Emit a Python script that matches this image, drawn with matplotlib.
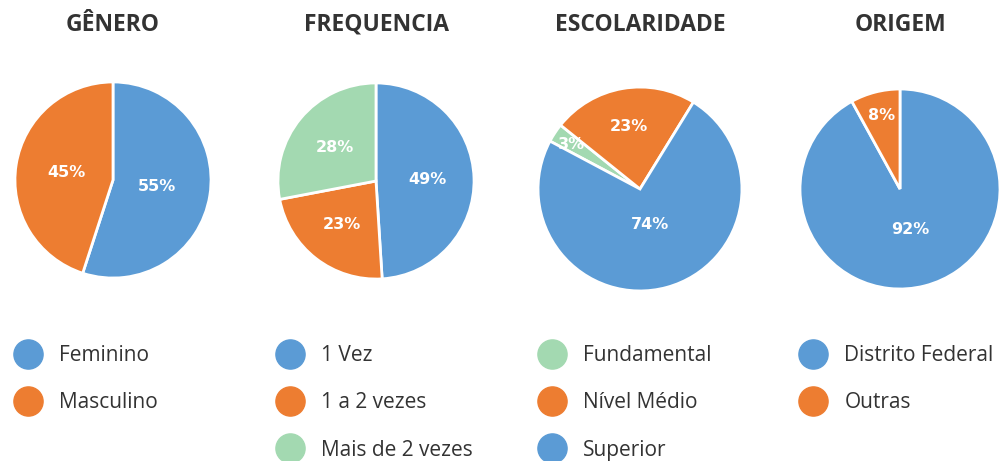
import matplotlib
matplotlib.use("Agg")
import matplotlib.pyplot as plt
from matplotlib.lines import Line2D

plt.rcParams['font.family'] = ['Open Sans', 'DejaVu Sans']

# =============================
# Data
# =============================
titles = ["GÊNERO", "FREQUENCIA", "ESCOLARIDADE", "ORIGEM"]

genero_labels = ["Feminino", "Masculino"]
genero_values = [55, 45]

freq_labels = ["1 Vez", "1 a 2 vezes", "Mais de 2 vezes"]
freq_values = [49, 23, 28]

escol_labels = ["Fundamental", "Nível Médio", "Superior"]
escol_values = [3, 23, 74]

origem_labels = ["Distrito Federal", "Outras"]
origem_values = [92, 8]

BLUE = "#5b9bd5"
ORANGE = "#ed7d31"
GREEN = "#a3d9b1"

W, H = 1005, 461
LEG_FS = 15

# per pie: labels, values, colours, startangle, centre (px), radius (px), label distance per wedge, legend x
pies = [
    (genero_labels, genero_values, [BLUE, ORANGE], 90, (113, 180), 100, [0.45, 0.48], 28),
    (freq_labels, freq_values, [BLUE, ORANGE, GREEN], 90, (376, 181), 100, [0.52, 0.56, 0.54], 290),
    (escol_labels, escol_values, [GREEN, ORANGE, BLUE], 152, (640, 189), 104, [0.8, 0.62, 0.36], 552),
    (origem_labels, origem_values, [BLUE, ORANGE], 90, (900, 189), 102, [0.42, 0.76], 813),
]

fig = plt.figure(figsize=(W / 100, H / 100), dpi=100)
fs_px = LEG_FS * 100 / 72

for (labels, values, colors, start, (cx, cy), r, dists, lx), title in zip(pies, titles):
    ax = fig.add_axes([(cx - r) / W, (H - cy - r) / H, 2 * r / W, 2 * r / H])
    wedges, texts, autotexts = ax.pie(
        values, colors=colors, startangle=start, counterclock=False,
        autopct=lambda p: f"{p:.0f}%", pctdistance=0.5,
        wedgeprops=dict(edgecolor="white", linewidth=2),
        textprops=dict(color="white", fontsize=11.5, fontweight="bold",
                       family=["DejaVu Sans"]),
    )
    for t, d in zip(autotexts, dists):
        x, y = t.get_position()
        t.set_position((x / 0.5 * d, y / 0.5 * d))
    ax.set_xlim(-1.02, 1.02)
    ax.set_ylim(-1.02, 1.02)

    fig.text(cx / W, 1 - 25 / H, title, ha="center", va="center",
             fontsize=16.5, fontweight="bold", color="#333333")

    handles = [Line2D([], [], linestyle="none", marker="o", markersize=21,
                      markerfacecolor=c, markeredgecolor=c) for c in colors]
    leg = fig.legend(handles, labels, loc="upper left",
                     bbox_to_anchor=((lx - 0.7 * fs_px) / W, 1 - 345 / H),
                     frameon=False, fontsize=LEG_FS, handlelength=1.4,
                     handletextpad=0.8, labelspacing=1.26, borderpad=0,
                     borderaxespad=0)
    for t in leg.get_texts():
        t.set_color("#333333")

fig.savefig("out.png", dpi=100, facecolor="white")
